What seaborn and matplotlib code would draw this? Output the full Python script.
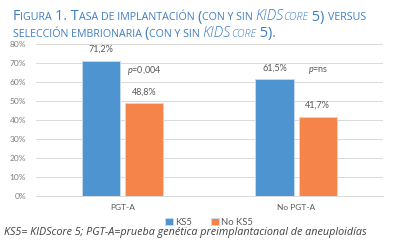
"""
Tasa de implantación con y sin KIDScore 5 (PGT-A vs No PGT-A)
"""
import pandas as pd
import matplotlib
matplotlib.use('Agg')
import matplotlib.pyplot as plt
import seaborn as sns

# --- datos ---
categorias = ['PGT-A', 'No PGT-A']
series = ['KS5', 'No KS5']
ks5 = [71.2, 61.5]
no_ks5 = [48.8, 41.7]
p_valores = ['0,004', 'ns']
yticks = [0, 10, 20, 30, 40, 50, 60, 70, 80]

AZUL = '#4D94D1'
NARANJA = '#F4844A'
GRIS = '#595959'
TITULO_COLOR = '#3F7EC2'

sns.set_theme(style='white')
plt.rcParams['font.family'] = ['Lato', 'DejaVu Sans']
plt.rcParams['mathtext.fontset'] = 'custom'
plt.rcParams['mathtext.it'] = 'Lato:italic'
plt.rcParams['mathtext.rm'] = 'Lato'

df = pd.DataFrame({
    'grupo': categorias * 2,
    'serie': [series[0]] * len(categorias) + [series[1]] * len(categorias),
    'valor': ks5 + no_ks5,
})

fig = plt.figure(figsize=(4.03, 2.46), dpi=100)
ax = fig.add_axes([0.089, 0.203, 0.861, 0.618])

sns.barplot(data=df, x='grupo', y='valor', hue='serie', order=categorias,
            hue_order=series, palette=[AZUL, NARANJA], width=0.5, gap=0.12,
            saturation=1, edgecolor='#C9DDF0', linewidth=0.6, ax=ax, legend=True)

# etiquetas de valor
for cont in ax.containers:
    for bar in cont:
        h = bar.get_height()
        ax.annotate(f'{h:.1f}%'.replace('.', ','), (bar.get_x() + bar.get_width() / 2, h),
                    xytext=(0, 5), textcoords='offset points', ha='center', va='bottom',
                    fontsize=6.5, color=GRIS)

# valores p sobre la barra naranja
for cont_bar, p in zip(ax.containers[1], p_valores):
    ax.text(cont_bar.get_x() + cont_bar.get_width() / 2, 66, f'$p$={p}',
            ha='center', va='center', fontsize=6.5, color=GRIS)

ax.set_ylim(0, 80)
ax.set_yticks(yticks)
ax.set_yticklabels([f'{t}%' for t in yticks])
ax.set_xlim(-0.5, 1.5)
ax.set_xlabel('')
ax.set_ylabel('')
ax.yaxis.grid(True, color='#D9D9D9', linewidth=0.7)
ax.set_axisbelow(True)
for s in ['top', 'right', 'left']:
    ax.spines[s].set_visible(False)
ax.spines['bottom'].set_color('#D9D9D9')
ax.spines['bottom'].set_linewidth(0.7)
ax.tick_params(axis='y', labelsize=6, colors='#7F7F7F', length=0, pad=7)
ax.tick_params(axis='x', labelsize=6, colors=GRIS, length=0, pad=6)

handles, labels = ax.get_legend_handles_labels()
ax.legend(handles, labels, loc='center', bbox_to_anchor=(0.519, 0.095),
          bbox_transform=fig.transFigure, ncol=2, frameon=False, fontsize=6.8,
          handlelength=0.8, handleheight=0.8, handletextpad=0.3, columnspacing=2.0,
          labelcolor=GRIS)

# --- título en versalitas ---
renderer = fig.canvas.get_renderer()
W = fig.get_figwidth() * fig.dpi
FAM = ['Open Sans', 'DejaVu Sans']


def ancho(s, size, style, weight):
    t = fig.text(0, 0, s + 'l', fontsize=size, fontstyle=style, fontweight=weight, family=FAM)
    t2 = fig.text(0, 0, 'l', fontsize=size, fontstyle=style, fontweight=weight, family=FAM)
    w = t.get_window_extent(renderer).width - t2.get_window_extent(renderer).width
    t.remove()
    t2.remove()
    return w


def runs_de(segmentos):
    out = []
    for texto, italica in segmentos:
        style = 'italic' if italica else 'normal'
        runs = []
        for ch in texto:
            small = ch.islower()
            if ch == ' ' and runs:
                small = runs[-1][1]
            if runs and runs[-1][1] == small:
                runs[-1][0] += ch
            else:
                runs.append([ch, small])
        out += [(s.upper(), small, style) for s, small in runs]
    return out


def versalitas(segmentos, x0, y, grande, chico, dibujar=True):
    x = x0
    for s, small, style in runs_de(segmentos):
        size = chico if small else grande
        weight = 'light' if style == 'italic' else 'normal'
        if dibujar:
            fig.text(x / W, y, s, fontsize=size, fontstyle=style, fontweight=weight,
                     color=TITULO_COLOR, va='baseline', ha='left', family=FAM)
        x += ancho(s, size, style, weight)
    return x - x0


linea1 = [('Figura 1. Tasa de implantación (con y sin ', False), ('KIDScore', True), (' 5) versus', False)]
linea2 = [('selección embrionaria (con y sin ', False), ('KIDScore', True), (' 5).', False)]
# escalar para que la primera línea vaya de x=13 a x=367
k = (367 - 13) / versalitas(linea1, 13, 0, 9.0, 6.6, dibujar=False)
versalitas(linea1, 13, 1 - 20.5 / 246, 9.0 * k, 6.6 * k)
versalitas(linea2, 13, 1 - 37 / 246, 9.0 * k, 6.6 * k)

nota = fig.text(4 / W, 1 - 232 / 246,
                'KS5= KIDScore 5; PGT-A=prueba genética preimplantacional de aneuploidías',
                fontsize=7.0, fontstyle='italic', color='#404040', va='center', ha='left',
                family=FAM)
nota.set_fontsize(7.0 * (366 - 4) / nota.get_window_extent(renderer).width)

fig.savefig('out.png', dpi=100)
